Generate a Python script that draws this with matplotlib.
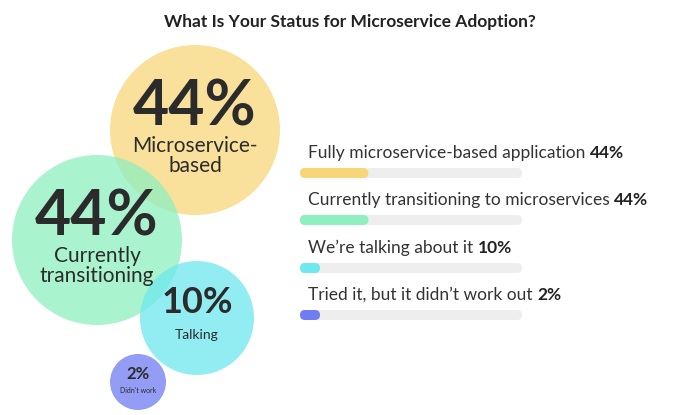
import matplotlib
matplotlib.use('Agg')
import matplotlib.pyplot as plt
from matplotlib.patches import Circle, FancyBboxPatch

plt.rcParams['font.family'] = 'Lato'

# data
labels = ['Fully microservice-based application', 'Currently transitioning to microservices',
          "We\u2019re talking about it", "Tried it, but it didn\u2019t work out"]
values = [44, 44, 10, 2]
bubble_text = ['Microservice-\nbased', 'Currently\ntransitioning', 'Talking', "Didn't work"]
colors = ['#f7d67a', '#8ef0c0', '#6ee8ef', '#6f7cf2']

fig = plt.figure(figsize=(7, 4.15), dpi=100)
ax = fig.add_axes([0, 0, 1, 1])
ax.set_xlim(0, 700)
ax.set_ylim(415, 0)
ax.set_aspect('equal')
ax.axis('off')

ax.text(350, 22, 'What Is Your Status for Microservice Adoption?', ha='center', va='center',
        fontsize=12.5, fontweight='bold', color='#222222')

# bubbles (center x, center y, radius, number size, label size)
bubbles = [(195, 130, 85, 45, 15), (97, 240, 85, 45, 15), (197, 318, 57, 26, 10), (138, 382, 28, 12, 5)]
for (cx, cy, r, fs, ls), v, t, c in zip(bubbles, values, bubble_text, colors):
    ax.add_patch(Circle((cx, cy), r, color=c, alpha=0.75, lw=0))
    ax.text(cx, cy - r * 0.27, f'{v}%', ha='center', va='center', fontsize=fs,
            fontweight='bold', color='#2b2b2b')
    ax.text(cx, cy + r * 0.3, t, ha='center', va='center', fontsize=ls, color='#2b2b2b',
            linespacing=1.0)

# bars
x0, width, h = 300, 222, 10
text_y = [153, 200, 248, 295]
for i, (lab, v, c) in enumerate(zip(labels, values, colors)):
    ty = text_y[i]
    by = ty + 20
    t = ax.text(x0 + 8, ty, lab + ' ', ha='left', va='center', fontsize=12.5, color='#333333')
    fig.canvas.draw()
    bb = t.get_window_extent().transformed(ax.transData.inverted())
    ax.text(bb.x1, ty, f'{v}%', ha='left', va='center', fontsize=12.5, fontweight='bold', color='#222222')
    ax.add_patch(FancyBboxPatch((x0, by - h / 2), width, h, boxstyle='round,pad=0,rounding_size=5',
                                color='#eeeeee', lw=0))
    fw = max(v / 100 * width * 0.7, 20)
    ax.add_patch(FancyBboxPatch((x0, by - h / 2), fw, h, boxstyle='round,pad=0,rounding_size=5',
                                color=c, lw=0))

fig.savefig('out.png', dpi=100)
